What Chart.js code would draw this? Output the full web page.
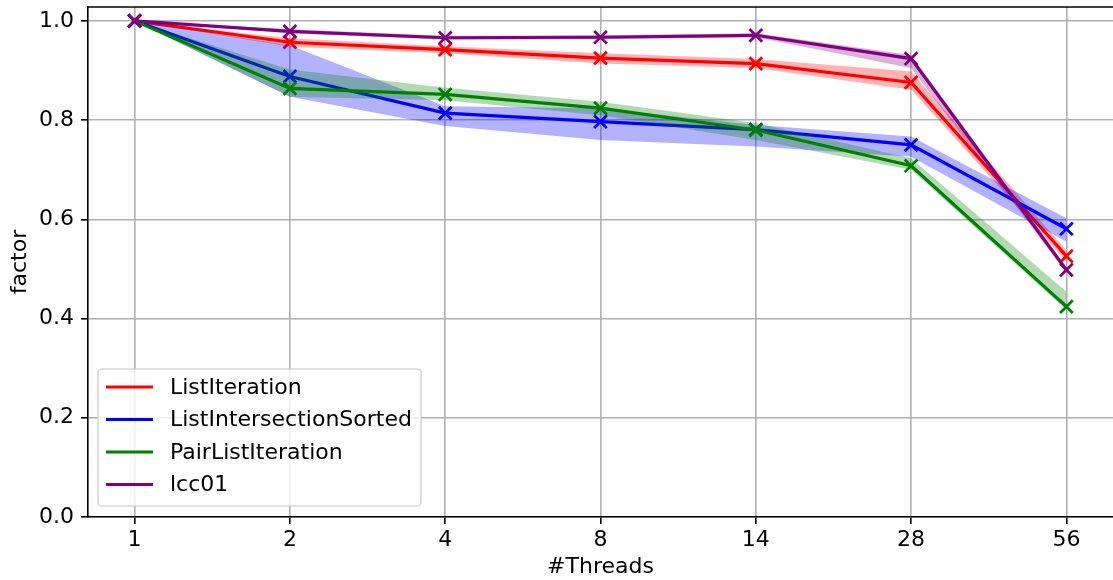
<!DOCTYPE html>
<html>
<head>
<meta charset="utf-8">
<script src="https://cdn.jsdelivr.net/npm/chart.js@4.4.1/dist/chart.umd.min.js"></script>
<style>
  html, body { margin: 0; padding: 0; background: #fff; }
  #wrap { width: 1113px; height: 580px; }
</style>
</head>
<body>
<div id="wrap"><canvas id="lineChart" width="1113" height="580"></canvas></div>
<script>
// values
const threads = ["1", "2", "4", "8", "14", "28", "56"];
const yTicks = [0, 0.2, 0.4, 0.6, 0.8, 1.0];

const listIteration   = [1.0, 0.957, 0.942, 0.925, 0.914, 0.876, 0.526];
const listIterationLo = [1.0, 0.948, 0.935, 0.914, 0.905, 0.861, 0.515];
const listIterationHi = [1.0, 0.965, 0.949, 0.935, 0.923, 0.898, 0.537];

const listInterSorted   = [1.0, 0.888, 0.814, 0.797, 0.781, 0.750, 0.581];
const listInterSortedLo = [1.0, 0.847, 0.788, 0.760, 0.747, 0.726, 0.555];
const listInterSortedHi = [1.0, 0.951, 0.828, 0.824, 0.790, 0.767, 0.602];

const pairListIteration   = [1.0, 0.864, 0.852, 0.824, 0.780, 0.708, 0.424];
const pairListIterationLo = [1.0, 0.847, 0.840, 0.810, 0.760, 0.700, 0.417];
const pairListIterationHi = [1.0, 0.902, 0.865, 0.837, 0.794, 0.723, 0.454];

const lcc01   = [1.0, 0.979, 0.966, 0.967, 0.971, 0.924, 0.498];
const lcc01Lo = [1.0, 0.975, 0.962, 0.963, 0.967, 0.905, 0.492];
const lcc01Hi = [1.0, 0.983, 0.970, 0.971, 0.975, 0.931, 0.504];

const series = [
  { name: "ListIteration", mean: listIteration, lo: listIterationLo, hi: listIterationHi, rgb: "255,0,0" },
  { name: "ListIntersectionSorted", mean: listInterSorted, lo: listInterSortedLo, hi: listInterSortedHi, rgb: "0,0,255" },
  { name: "PairListIteration", mean: pairListIteration, lo: pairListIterationLo, hi: pairListIterationHi, rgb: "0,128,0" },
  { name: "lcc01", mean: lcc01, lo: lcc01Lo, hi: lcc01Hi, rgb: "128,0,128" }
];

const FONT = "'DejaVu Sans', sans-serif";
const FS = 22;
Chart.defaults.font.family = FONT;
Chart.defaults.font.size = FS;
Chart.defaults.color = "#000";

const pts = arr => arr.map((v, i) => ({ x: i, y: v }));

// line first, then its band, like the original plot order
const datasets = [];
let seq = 0;
series.forEach(s => {
  const col = "rgb(" + s.rgb + ")";
  datasets.push({
    label: s.name, data: pts(s.mean),
    borderColor: col, borderWidth: 3.2, fill: false, tension: 0,
    pointStyle: "crossRot", pointRadius: 9, pointBorderWidth: 2.8,
    pointBorderColor: col, pointBackgroundColor: col,
    order: 100 - seq++
  });
  datasets.push({
    label: s.name + " hi", data: pts(s.hi),
    borderWidth: 0, pointRadius: 0, fill: false, order: 100 - seq
  });
  datasets.push({
    label: s.name + " lo", data: pts(s.lo),
    borderWidth: 0, pointRadius: 0, fill: "-1",
    backgroundColor: "rgba(" + s.rgb + ",0.3)", order: 100 - seq++
  });
});

// top spine and the legend box inside the plot
const framePlugin = {
  id: "frame",
  afterDraw(chart) {
    const { ctx, chartArea: a } = chart;
    ctx.save();
    ctx.strokeStyle = "#000";
    ctx.lineWidth = 1.6;
    ctx.beginPath();
    ctx.moveTo(a.left, a.top);
    ctx.lineTo(a.right, a.top);
    ctx.stroke();

    const bx = a.left + 10, by = 369, bw = 323, bh = 137;
    ctx.fillStyle = "rgba(255,255,255,0.8)";
    ctx.strokeStyle = "rgba(204,204,204,0.8)";
    ctx.lineWidth = 1.6;
    ctx.beginPath();
    ctx.roundRect(bx, by, bw, bh, 4);
    ctx.fill();
    ctx.stroke();

    ctx.font = FS + "px " + FONT;
    ctx.textBaseline = "middle";
    ctx.textAlign = "left";
    series.forEach((s, i) => {
      const y = 387 + i * 32.5;
      ctx.strokeStyle = "rgb(" + s.rgb + ")";
      ctx.lineWidth = 3.2;
      ctx.beginPath();
      ctx.moveTo(bx + 8, y);
      ctx.lineTo(bx + 55, y);
      ctx.stroke();
      ctx.fillStyle = "#000";
      ctx.fillText(s.name, bx + 72, y + 1);
    });
    ctx.restore();
  }
};

new Chart(document.getElementById("lineChart"), {
  type: "line",
  data: { datasets: datasets },
  options: {
    responsive: false,
    animation: false,
    devicePixelRatio: 1,
    layout: { autoPadding: false, padding: { top: 7, right: 0, left: 0, bottom: 0 } },
    plugins: { legend: { display: false }, tooltip: { enabled: false } },
    scales: {
      x: {
        type: "linear", min: -0.3, max: 6.3,
        afterBuildTicks: s => { s.ticks = threads.map((t, i) => ({ value: i })); },
        afterFit: s => { s.height = 63; s.paddingLeft = 0; s.paddingRight = 0; },
        ticks: { callback: v => threads[v], padding: 3, maxRotation: 0, autoSkip: false },
        grid: { color: "#b0b0b0", lineWidth: 1.6, tickColor: "#000", tickLength: 7, tickWidth: 1.6 },
        border: { color: "#000", width: 1.6 },
        title: { display: true, text: "#Threads", padding: { top: 0, bottom: 0 } }
      },
      y: {
        min: 0, max: 1.028,
        afterBuildTicks: s => { s.ticks = yTicks.map(v => ({ value: v })); },
        afterFit: s => { s.width = 88; s.paddingTop = 0; s.paddingBottom = 0; },
        ticks: { callback: v => v.toFixed(1), padding: 7 },
        grid: { color: "#b0b0b0", lineWidth: 1.6, tickColor: "#000", tickLength: 7, tickWidth: 1.6 },
        border: { color: "#000", width: 1.6 },
        title: { display: true, text: "factor", padding: { top: 7, bottom: 0 } }
      }
    }
  },
  plugins: [framePlugin]
});
</script>
</body>
</html>
